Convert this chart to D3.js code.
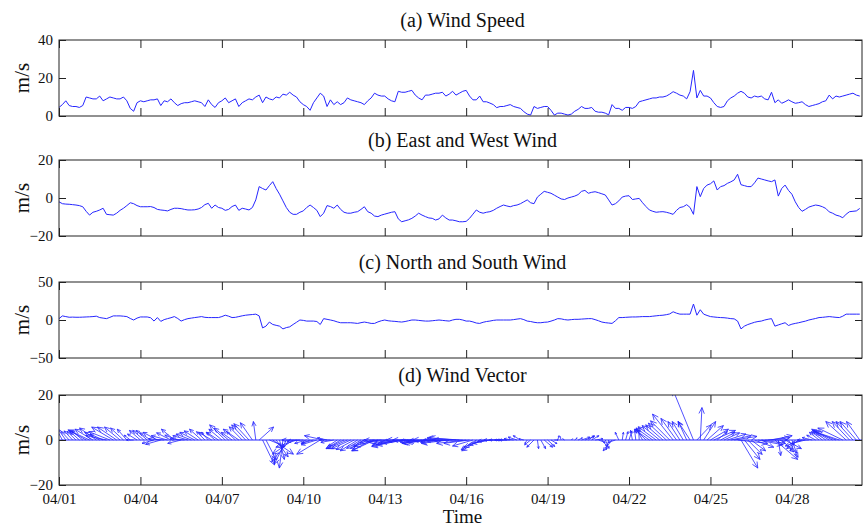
<!DOCTYPE html>
<html>
<head>
<meta charset="utf-8">
<script src="https://cdn.jsdelivr.net/npm/d3@7"></script>
<style>
body { margin: 0; background: #fff; }
svg text { font-family: 'Liberation Serif', 'Times New Roman', Times, serif; fill: #111; }
</style>
</head>
<body>
<div id="chart-area"></div>
<script>
// 3-hourly samples starting 04/01 00:00
var speed = [
	4.5, 6, 8, 5.5, 5, 5, 4.5, 5.5,
	10, 9.5, 9, 9, 10.5, 8, 9, 10,
	9.5, 9, 9, 10, 8, 4, 2.5, 7,
	8, 7.5, 8, 8.5, 8.5, 9, 5.5, 8,
	7.5, 9, 7, 5.5, 6.5, 7, 7, 7.5,
	8, 7.5, 7, 5, 8.5, 6, 4.5, 7,
	8, 9.5, 7, 8, 9, 5, 7, 8,
	9, 8.5, 10, 11, 7, 10, 9, 8.5,
	10, 9.5, 11.5, 11, 12.5, 11, 10, 7.5,
	6, 5, 3, 7, 9.5, 12, 10.5, 5,
	8.5, 6, 7.5, 6, 7, 9.5, 8.5, 8,
	7.5, 7, 6, 8, 9.5, 12, 11, 10.5,
	10.5, 9, 8, 7.5, 13, 12.5, 12.5, 13,
	13.5, 11, 9.5, 8.5, 11, 11, 11.5, 12,
	12, 12.5, 10.5, 11.5, 13, 11, 12, 13,
	13.5, 10.5, 8.5, 8.5, 10.5, 7.5, 7.5, 6.8,
	6, 4.4, 5, 5, 5.5, 6, 5, 4.5,
	4, 2.3, 1, 0.5, 5, 4, 4.5, 5,
	5, 3, 0.5, 1.5, 1.5, 1, 0.5, 1,
	2.5, 3.5, 5, 4, 4, 4.5, 2.5, 2,
	2, 1.5, 0.6, 6, 4, 4, 3, 4.5,
	4.5, 4, 5, 7.5, 8, 8.5, 9, 9.5,
	9.5, 10, 10, 10.5, 11.5, 12.8, 12, 11,
	10.5, 9, 12.8, 24, 9.5, 13.5, 10.5, 10.5,
	9.5, 7, 5, 4.5, 5, 8, 9.5, 10.5,
	12, 13, 12, 10, 9.5, 10.5, 10, 10.5,
	9, 8.5, 12.5, 7, 8.5, 6.7, 7.5, 8.5,
	7.5, 6.7, 7, 7.5, 6, 5, 5.5, 6,
	6.5, 7.5, 8, 11, 9, 10.5, 10, 10.5,
	11, 11.5, 12, 11, 10.5
];

var eastWest = [
	-2, -3, -3.2, -3.3, -3.5, -3.7, -4, -4.6,
	-7, -9, -7.5, -7, -6.3, -5.4, -8.6, -8.8,
	-9, -8, -6.5, -5.4, -4, -2.5, -3, -4,
	-4.6, -4.6, -4.6, -4.5, -5, -6, -6.3, -6.5,
	-6.8, -6, -5.4, -5.4, -5.6, -6, -6.3, -6.3,
	-6.2, -5.8, -5, -3.5, -2.8, -5.4, -3.7, -5,
	-5.4, -6.5, -6, -4.5, -3.7, -6.5, -5.4, -5.8,
	-6.3, -5, -1, 6, 5, 4.2, 6.5, 8.6,
	5, 2, -1.5, -5, -7.5, -8.6, -8.6, -7.5,
	-6.8, -5, -3.7, -5, -6.5, -9.8, -8, -4,
	-4.5, -5.4, -3.7, -6, -7.5, -8, -8, -7.5,
	-7.2, -6, -4.6, -7.2, -8, -9.5, -9.8, -9,
	-8.5, -8, -7.5, -7.2, -11, -12.5, -12, -11.5,
	-10.7, -9.5, -8, -9, -9.8, -10.5, -10.7, -11.6,
	-11, -9, -10.5, -11.6, -11.6, -12, -12.5, -12.5,
	-12.3, -10.7, -8.5, -6.3, -7.5, -8, -7.5, -7.2,
	-6.5, -5.4, -4.5, -3.7, -4.2, -4.6, -4, -3.7,
	-3, -2, -1, -2.5, -3, 0.5, 2, 3.5,
	3, 2.5, 1.5, 0.5, -0.5, -0.8, 0, 0.5,
	1, 1.8, 3.5, 4, 2.5, 3, 3.3, 2.8,
	2.2, 1.6, -1, -3.7, -3, -1.5, 0.5, 1,
	1.2, -0.8, -0.5, -0.2, -2.5, -4.5, -6.3, -7,
	-7.5, -7.3, -7.2, -7.5, -8, -8.6, -6.5, -5,
	-4.6, -3.5, -5, -8.6, 6, 0.7, 5, 6.8,
	7.5, 9, 4.2, 6, 6.5, 7.7, 8.5, 9.5,
	12.5, 7, 6.5, 6, 6, 8, 10.5, 10,
	9.5, 9, 8.6, 9.5, 1, 5, 6.8, 4,
	2, -2, -5, -7, -6, -4.8, -4.2, -3.7,
	-4, -4.6, -5.5, -7.3, -8, -9, -9.5, -10.4,
	-8.5, -7.2, -7, -6.8, -5.5
];

var northSouth = [
	1.8, 5.4, 4.5, 3.6, 3.8, 3.6, 3.6, 3.8,
	4, 4.2, 4.5, 5, 3.2, 2.5, 1.8, 3.5,
	5.4, 5.4, 5.4, 5, 4.5, 2, 0, 2.5,
	4, 4, 4, 3, -1.4, 3.2, -1.8, 0.5,
	1.8, 3, 4.5, 2, -1.4, 0.5, 1.8, 2.5,
	3.2, 3.8, 4.5, 3.5, 3.2, 3.2, 3.2, 3.2,
	4.5, 6.3, 5, 3.2, 3.5, 4.5, 5.5, 6.3,
	6.8, 7.2, 7.7, 5.4, -10.4, -8.1, -2.7, -5.9,
	-7, -8.1, -11.7, -10, -9, -5.9, -3, 0,
	-0.5, -1.4, -1.4, -1.4, -2, -5.9, 1.8, 0.9,
	0, -1, -2.5, -3.6, -3.6, -3.6, -3.6, -4,
	-4.5, -3.5, -2.7, -3.5, -4.5, -4.5, -2.5, -1,
	0, -1, -1.5, -1.8, -2.3, -2.7, -2, -1,
	0, 0, -0.5, -1, -1.4, -1.4, -1, -0.5,
	0, -0.5, -1, -1.4, 0, 0.9, 0.9, 0,
	-1.4, -1.4, -2.5, -4, -4.5, -3, -2, -1.4,
	-0.5, 0, 0, 0, 0, 0, 0.5, 1.2,
	1.8, 0.5, -1.4, -2, -3, -3.6, -3.6, -3,
	-2.7, -1.5, 0, 1.8, 1.5, 0.5, 0, 0.5,
	0.9, 0.9, 1.2, 1.5, 1.8, 1.8, 0.5, -1,
	-2.7, -3.5, -4, -4.5, -1, 3.2, 3.2, 3.5,
	3.8, 4, 4, 4.2, 4.5, 4.5, 4.5, 5,
	5.5, 6, 6.3, 7, 8, 10.8, 9, 7.7,
	7.7, 7.7, 7.7, 21, 6.3, 13.5, 7.7, 6,
	4.5, 4, 3.5, 3.2, 3, 2.5, 1.8, 1.5,
	-1.4, -11.7, -8.1, -6, -4.5, -3, -2, -1.4,
	0, 1, 1.8, -8.1, -6.5, -5, -3.6, -7.2,
	-5.5, -4.5, -3.6, -2.5, -1.5, 0, 1, 2,
	3.2, 3.5, 4, 4.5, 4, 3.5, 3.2, 5,
	7.7, 7.7, 7.7, 7.7, 7.7
];

var xTickLabels = ['04/01', '04/04', '04/07', '04/10', '04/13', '04/16', '04/19', '04/22', '04/25', '04/28'];
var panelTitles = ['(a) Wind Speed', '(b) East and West Wind', '(c) North and South Wind', '(d) Wind Vector'];
var yTicksSpeed = [0, 20, 40];
var yTicksEW = [-20, 0, 20];
var yTicksNS = [-50, 0, 50];
var yTicksVec = [-20, 0, 20];

var year = 2016;
var startTime = Date.UTC(year, 3, 1);
var endTime = Date.UTC(year, 3, 30, 14);
var stepMs = 3 * 3600 * 1000;
var times = speed.map((d, i) => new Date(startTime + i * stepMs));
var tickDates = xTickLabels.map(s => d3.utcParse('%Y/%m/%d')(year + '/' + s));

var margin = { left: 59, right: 1 };
var width = 863 - margin.left - margin.right;
var tops = [40, 160, 282, 395];
var heights = [76, 76, 76, 90];
var lineColor = '#2626ff';
var fontFamily = "'Liberation Serif', 'Times New Roman', Times, serif";

var svg = d3.select('#chart-area').append('svg')
			.attr('width', 863)
			.attr('height', 527);

var x = d3.scaleUtc().domain([new Date(startTime), new Date(endTime)]).range([0, width]);

var panels = [
	{ title: panelTitles[0], ticks: yTicksSpeed, values: speed },
	{ title: panelTitles[1], ticks: yTicksEW, values: eastWest },
	{ title: panelTitles[2], ticks: yTicksNS, values: northSouth },
	{ title: panelTitles[3], ticks: yTicksVec, values: null }
];

panels.forEach((p, i) => {
	var h = heights[i];
	var g = svg.append('g').attr('transform', `translate(${margin.left}, ${tops[i]})`);
	var y = d3.scaleLinear().domain(d3.extent(p.ticks)).range([h, 0]);

	var clipId = 'clip' + i;
	g.append('clipPath').attr('id', clipId)
		.append('rect').attr('width', width).attr('height', h);

	g.append('text')
		.attr('x', width / 2 + 2)
		.attr('y', -13)
		.attr('text-anchor', 'middle')
		.attr('font-size', '20px')
		.text(p.title);

	g.append('text')
		.attr('transform', `translate(-30, ${h / 2}) rotate(-90)`)
		.attr('text-anchor', 'middle')
		.attr('font-size', '21px')
		.text('m/s');

	if (p.values) {
		var line = d3.line().x((d, j) => x(times[j])).y(d => y(d));
		g.append('path')
			.datum(p.values)
			.attr('clip-path', `url(#${clipId})`)
			.attr('fill', 'none')
			.attr('stroke', lineColor)
			.attr('stroke-width', 1)
			.attr('d', line);
	} else {
		// feather style arrows from the zero line
		var vecScale = 2.4;
		var by = y(0);
		g.append('line')
			.attr('x1', 0).attr('x2', width)
			.attr('y1', by).attr('y2', by)
			.attr('stroke', lineColor).attr('stroke-width', 1);
		var arrows = g.append('g').attr('clip-path', `url(#${clipId})`);
		arrows.selectAll('path').data(times).enter()
			.append('path')
				.attr('fill', 'none')
				.attr('stroke', lineColor)
				.attr('stroke-width', 0.8)
				.attr('d', (t, j) => {
					var bx = x(t);
					var tx = bx + eastWest[j] * vecScale;
					var ty = by - northSouth[j] * vecScale;
					var dx = tx - bx, dy = ty - by;
					var len = Math.hypot(dx, dy);
					if (len < 0.5) return null;
					var hl = Math.min(6, len * 0.25), hw = hl * 0.45;
					var ux = dx / len, uy = dy / len;
					var hx = tx - ux * hl, hy = ty - uy * hl;
					return `M${bx},${by}L${tx},${ty}M${hx - uy * hw},${hy + ux * hw}L${tx},${ty}L${hx + uy * hw},${hy - ux * hw}`;
				});
	}

	var xBottom = d3.axisBottom(x).tickValues(tickDates).tickSize(-8).tickPadding(8)
		.tickFormat(i === 3 ? d3.utcFormat('%m/%d') : '');
	var xTop = d3.axisTop(x).tickValues(tickDates).tickSize(-8).tickFormat('');
	var yLeft = d3.axisLeft(y).tickValues(p.ticks).tickSize(-7).tickPadding(6);
	var yRight = d3.axisRight(y).tickValues(p.ticks).tickSize(-7).tickFormat('');

	var axes = [
		g.append('g').attr('transform', `translate(0, ${h})`).call(xBottom),
		g.append('g').call(xTop),
		g.append('g').call(yLeft),
		g.append('g').attr('transform', `translate(${width}, 0)`).call(yRight)
	];
	axes.forEach(a => {
		a.attr('font-family', fontFamily);
		a.select('.domain').remove();
		a.selectAll('line').attr('stroke', '#222');
		a.selectAll('text').attr('font-size', '15px').attr('fill', '#111');
	});

	g.append('rect')
		.attr('width', width)
		.attr('height', h)
		.attr('fill', 'none')
		.attr('stroke', '#222')
		.attr('stroke-width', 1);
});

svg.append('text')
	.attr('x', margin.left + width / 2 + 2)
	.attr('y', 523)
	.attr('text-anchor', 'middle')
	.attr('font-size', '19px')
	.text('Time');
</script>
</body>
</html>
